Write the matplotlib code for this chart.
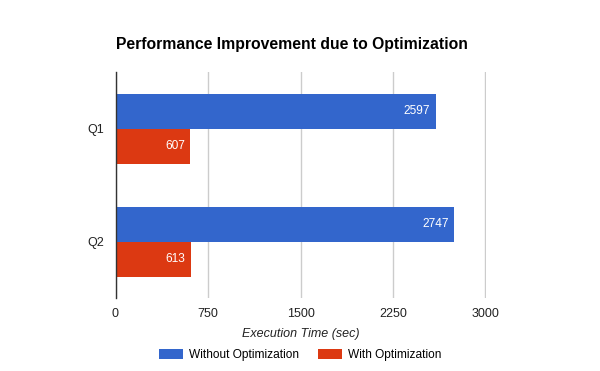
import matplotlib
matplotlib.use('Agg')
import matplotlib.pyplot as plt
import matplotlib.patches as mpatches
import numpy as np

plt.rcParams['font.family'] = ['Liberation Sans', 'DejaVu Sans']

# data
queries = ["Q1", "Q2"]
without_opt = [2597, 2747]
with_opt = [607, 613]
series_names = ["Without Optimization", "With Optimization"]
x_ticks = [0, 750, 1500, 2250, 3000]

BLUE = "#3366CC"
RED = "#DC3912"

fig = plt.figure(figsize=(6, 3.71), dpi=100)
ax = fig.add_axes([115.5 / 600, 1 - 298 / 371, 370 / 600, 226 / 371])

y = np.arange(len(queries))
h = 0.305
b1 = ax.barh(y - h / 2, without_opt, height=h, color=BLUE, edgecolor='none', zorder=2)
b2 = ax.barh(y + h / 2 + 0.006, with_opt, height=h, color=RED, edgecolor='none', zorder=2)

for bars, vals in ((b1, without_opt), (b2, with_opt)):
    for bar, v in zip(bars, vals):
        ax.annotate(f"{v}", xy=(v, bar.get_y() + bar.get_height() / 2),
                    xytext=(-4, 0), textcoords='offset points',
                    ha='right', va='center', color='white', fontsize=8.6, zorder=3)

ax.set_xlim(0, 3000)
ax.set_ylim(1.5, -0.5)
ax.set_xticks(x_ticks)
ax.set_xticklabels([str(t) for t in x_ticks])
ax.set_yticks(y)
ax.set_yticklabels(queries)
ax.tick_params(axis='both', length=0, labelsize=9, colors='#222222')
ax.tick_params(axis='x', pad=7)
ax.tick_params(axis='y', pad=8.5)
ax.grid(axis='x', color='#CCCCCC', linewidth=1, zorder=0)
for s in ('top', 'right', 'bottom'):
    ax.spines[s].set_visible(False)
ax.spines['left'].set_color('#333333')
ax.spines['left'].set_linewidth(1)
ax.spines['left'].set_zorder(4)

ax.set_xlabel("Execution Time (sec)", fontsize=9, style='italic', color='#222222', labelpad=6)

fig.text(116 / 600, 1 - 45 / 371, "Performance Improvement due to Optimization",
         fontsize=11.35, fontweight='bold', color='black', ha='left', va='center')

handles = [mpatches.Patch(facecolor=BLUE, label=series_names[0]),
           mpatches.Patch(facecolor=RED, label=series_names[1])]
fig.legend(handles=handles, loc='center', bbox_to_anchor=(300 / 600, 1 - 355 / 371),
           ncol=2, frameon=False, fontsize=8.6, handlelength=2.0, handleheight=0.9,
           columnspacing=1.6, handletextpad=0.5, borderpad=0)

fig.savefig("out.png", dpi=100)
